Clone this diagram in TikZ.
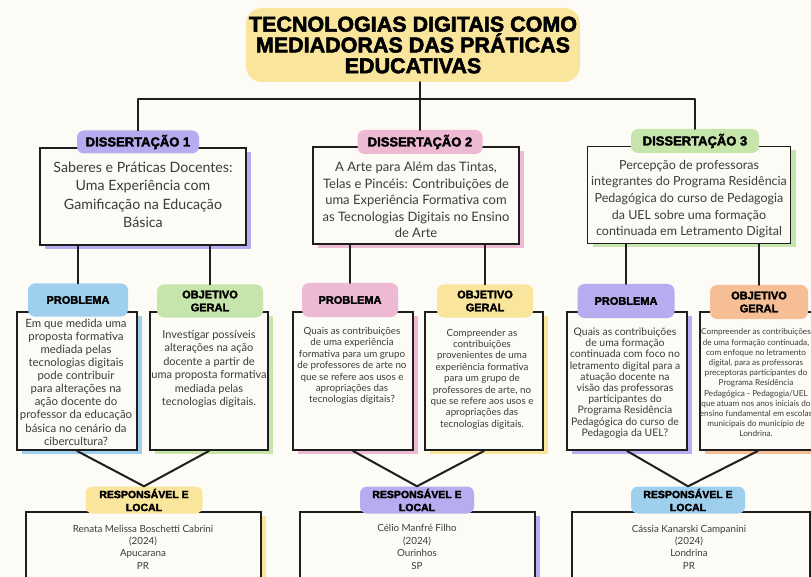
\documentclass[tikz,border=0pt]{standalone}
\usepackage{fontspec}
\setmainfont{Lato}
\newfontfamily\heavyfont[FakeBold=2.5]{Liberation Sans Bold}
\usetikzlibrary{shadows}
\definecolor{bg}{HTML}{FCFBF6}
\definecolor{linecol}{HTML}{1E1E1E}
\definecolor{txtgray}{HTML}{3C3C3C}
\definecolor{lav}{HTML}{B8ABEF}
\definecolor{pinkc}{HTML}{EEB9D2}
\definecolor{greenc}{HTML}{C6E5AA}
\definecolor{bluec}{HTML}{9ED0EE}
\definecolor{yellowc}{HTML}{FAE59C}
\definecolor{orangec}{HTML}{F5BE94}
\tikzset{
  conn/.style={draw=linecol, line width=2pt, line cap=round, line join=round},
  boxnode/.style={draw=linecol, line width=1.9pt, fill=bg, inner sep=0pt,
    drop shadow={shadow xshift=5pt, shadow yshift=-4pt, fill=#1, opacity=1}},
  pill/.style={fill=#1, rounded corners=7pt, inner sep=0pt, align=center,
    font=\heavyfont, text=black},
  txt/.style={inner sep=0pt, align=center, text=txtgray}
}
\begin{document}
\begin{tikzpicture}[x=1pt,y=-1pt]
\useasboundingbox (0,0) rectangle (811,577);
\fill[bg] (0,0) rectangle (811,577);
\clip (0,0) rectangle (811,577);

% title
\node[pill=yellowc, rounded corners=16pt, minimum width=334pt, minimum height=74pt,
  font=\heavyfont\fontsize{21.5}{20.8}\selectfont] (title) at (413,45)
  {TECNOLOGIAS DIGITAIS COMO\\MEDIADORAS DAS PRÁTICAS\\EDUCATIVAS};

% dissertation boxes
\node[boxnode=lav, minimum width=206pt, minimum height=97pt] (d1box) at (143,196.5) {};
\node[boxnode=pinkc, minimum width=206pt, minimum height=97pt] (d2box) at (416,195.5) {};
\node[boxnode=greenc, minimum width=203pt, minimum height=97pt] (d3box) at (689,195) {};

\node[txt, font=\fontsize{14.2}{18.5}\selectfont] (d1text) at (143,195)
  {Saberes e Práticas Docentes:\\Uma Experiência com\\Gamificação na Educação\\Básica};
\node[txt, font=\fontsize{13}{16.6}\selectfont] (d2text) at (416,200)
  {A Arte para Além das Tintas,\\Telas e Pincéis: Contribuições de\\uma Experiência Formativa com\\as Tecnologias Digitais no Ensino\\de Arte};
\node[txt, font=\fontsize{12.5}{16.6}\selectfont] (d3text) at (689,199)
  {Percepção de professoras\\integrantes do Programa Residência\\Pedagógica do curso de Pedagogia\\da UEL sobre uma formação\\continuada em Letramento Digital};

\node[pill=lav, minimum width=122pt, minimum height=23pt, font=\heavyfont\fontsize{13}{14}\selectfont] (d1label) at (138,142) {DISSERTAÇÃO 1};
\node[pill=pinkc, minimum width=125pt, minimum height=24pt, font=\heavyfont\fontsize{13}{14}\selectfont] (d2label) at (420,142) {DISSERTAÇÃO 2};
\node[pill=greenc, minimum width=128pt, minimum height=24pt, font=\heavyfont\fontsize{13}{14}\selectfont] (d3label) at (695,141) {DISSERTAÇÃO 3};

% top connectors
\coordinate (bar) at (420,99);
\draw[conn] (d2label.north) -- (d2label.north |- title.south);
\draw[conn] (d1label.north) -- (d1label.north |- bar) -- (d3label.north |- bar) -- (d3label.north);

% problem / objective boxes
\node[boxnode=bluec, minimum width=120pt, minimum height=138pt] (p1box) at (77,381) {};
\node[boxnode=greenc, minimum width=118pt, minimum height=138pt] (o1box) at (209,381) {};
\node[boxnode=pinkc, minimum width=120pt, minimum height=138pt] (p2box) at (353,381) {};
\node[boxnode=yellowc, minimum width=118pt, minimum height=138pt] (o2box) at (484,381) {};
\node[boxnode=lav, minimum width=120pt, minimum height=138pt] (p3box) at (627,381) {};
\node[boxnode=orangec, minimum width=116pt, minimum height=138pt] (o3box) at (758,381) {};

\node[txt, font=\fontsize{11.4}{13.1}\selectfont] (p1text) at (76,382)
  {Em que medida uma\\proposta formativa\\mediada pelas\\tecnologias digitais\\pode contribuir\\para alterações na\\ação docente do\\professor da educação\\básica no cenário da\\cibercultura?};
\node[txt, font=\fontsize{11}{13.5}\selectfont] (o1text) at (209,369)
  {Investigar possíveis\\alterações na ação\\docente a partir de\\uma proposta formativa\\mediada pelas\\tecnologias digitais.};
\node[txt, font=\fontsize{9.8}{11.4}\selectfont] (p2text) at (352,366)
  {Quais as contribuições\\de uma experiência\\formativa para um grupo\\de professores de arte no\\que se refere aos usos e\\apropriações das\\tecnologias digitais?};
\node[txt, font=\fontsize{9.8}{11.4}\selectfont] (o2text) at (482,379)
  {Compreender as\\contribuições\\provenientes de uma\\experiência formativa\\para um grupo de\\professores de arte, no\\que se refere aos usos e\\apropriações das\\tecnologias digitais.};
\node[txt, font=\fontsize{10.4}{11.2}\selectfont] (p3text) at (625,383)
  {Quais as contribuições\\de uma formação\\continuada com foco no\\letramento digital para a\\atuação docente na\\visão das professoras\\participantes do\\Programa Residência\\Pedagógica do curso de\\Pedagogia da UEL?};
\node[txt, font=\fontsize{8.2}{10.2}\selectfont] (o3text) at (756,383)
  {Compreender as contribuições\\de uma formação continuada,\\com enfoque no letramento\\digital, para as professoras\\preceptoras participantes do\\Programa Residência\\Pedagógica - Pedagogia/UEL\\que atuam nos anos iniciais do\\ensino fundamental em escolas\\municipais do município de\\Londrina.};

\node[pill=bluec, minimum width=100pt, minimum height=33pt, font=\heavyfont\fontsize{11}{12}\selectfont] (p1label) at (78,300) {PROBLEMA};
\node[pill=greenc, minimum width=106pt, minimum height=33pt, font=\heavyfont\fontsize{11}{13}\selectfont] (o1label) at (210,301) {OBJETIVO\\GERAL};
\node[pill=pinkc, minimum width=96pt, minimum height=34pt, font=\heavyfont\fontsize{11}{12}\selectfont] (p2label) at (350,300) {PROBLEMA};
\node[pill=yellowc, minimum width=96pt, minimum height=33pt, font=\heavyfont\fontsize{11}{13}\selectfont] (o2label) at (485,301) {OBJETIVO\\GERAL};
\node[pill=lav, minimum width=97pt, minimum height=34pt, font=\heavyfont\fontsize{11}{12}\selectfont] (p3label) at (626,301) {PROBLEMA};
\node[pill=orangec, minimum width=98pt, minimum height=34pt, font=\heavyfont\fontsize{11}{13}\selectfont] (o3label) at (759,302) {OBJETIVO\\GERAL};

\draw[conn] (p1label.north) -- (p1label.north |- d1box.south);
\draw[conn] (o1label.north) -- (o1label.north |- d1box.south);
\draw[conn] (p2label.north) -- (p2label.north |- d2box.south);
\draw[conn] (o2label.north) -- (o2label.north |- d2box.south);
\draw[conn] (p3label.north) -- (p3label.north |- d3box.south);
\draw[conn] (o3label.north) -- (o3label.north |- d3box.south);

% responsible boxes
\node[boxnode=yellowc, minimum width=235pt, minimum height=90pt] (r1box) at (143.5,557) {};
\node[boxnode=lav, minimum width=235pt, minimum height=90pt] (r2box) at (417.5,557) {};
\node[boxnode=bluec, minimum width=238pt, minimum height=90pt] (r3box) at (691,557) {};

\node[txt, font=\fontsize{9.8}{12.4}\selectfont] (r1text) at (143,547)
  {Renata Melissa Boschetti Cabrini\\(2024)\\Apucarana\\PR};
\node[txt, font=\fontsize{9.8}{12.4}\selectfont] (r2text) at (417,547)
  {Célio Manfré Filho\\(2024)\\Ourinhos\\SP};
\node[txt, font=\fontsize{9.8}{12.4}\selectfont] (r3text) at (689,547)
  {Cássia Kanarski Campanini\\(2024)\\Londrina\\PR};

\node[pill=yellowc, minimum width=117pt, minimum height=27pt, font=\heavyfont\fontsize{10.5}{13}\selectfont] (r1label) at (144,500) {RESPONSÁVEL E\\LOCAL};
\node[pill=lav, minimum width=114pt, minimum height=27pt, font=\heavyfont\fontsize{10.5}{13}\selectfont] (r2label) at (417,500) {RESPONSÁVEL E\\LOCAL};
\node[pill=bluec, minimum width=114pt, minimum height=27pt, font=\heavyfont\fontsize{10.5}{13}\selectfont] (r3label) at (688,500) {RESPONSÁVEL E\\LOCAL};

\draw[conn] (p1box.south) -- (r1label.north) -- (o1box.south);
\draw[conn] (p2box.south) -- (r2label.north) -- (o2box.south);
\draw[conn] (p3box.south) -- (r3label.north) -- (o3box.south);
\end{tikzpicture}
\end{document}
